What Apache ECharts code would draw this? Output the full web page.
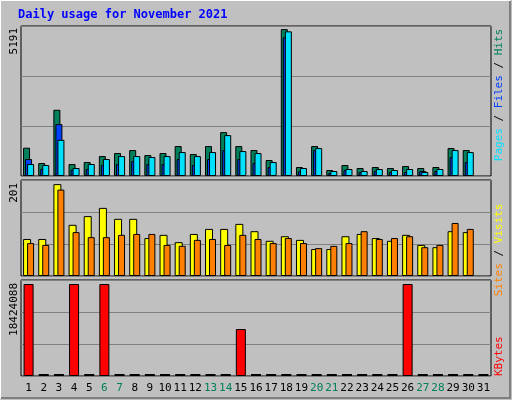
<!DOCTYPE html>
<html>
<head>
<meta charset="utf-8">
<script src="https://cdn.jsdelivr.net/npm/echarts@6/dist/echarts.min.js"></script>
<style>html,body{margin:0;padding:0;background:#c0c0c0}#chart{width:512px;height:400px}</style>
</head>
<body>
<div id="chart"></div>
<script>
const days = Array.from({ length: 31 }, (_, i) => String(i + 1));
const weekends = ['6', '7', '13', '14', '20', '21', '27', '28'];

// day 31 has no data yet
const hits = [1000, 458, 2340, 423, 494, 705, 811, 917, 740, 811, 1058, 776, 1058, 1551, 1058, 917, 564, 5191, 317, 1058, 211, 388, 282, 317, 282, 352, 282, 317, 987, 917, null];
const files = [600, 250, 1833, 223, 250, 388, 423, 529, 423, 423, 600, 388, 600, 917, 600, 458, 317, 4900, 165, 917, 106, 211, 141, 176, 141, 141, 176, 176, 670, 494, null];
const pages = [423, 388, 1280, 282, 423, 600, 705, 705, 670, 705, 846, 705, 846, 1445, 881, 811, 494, 5111, 282, 987, 176, 247, 176, 247, 211, 247, 141, 247, 917, 846, null];

const visits = [81, 81, 201, 112, 131, 149, 125, 125, 83, 90, 74, 92, 103, 103, 114, 98, 77, 87, 79, 59, 59, 87, 92, 83, 77, 90, 68, 63, 98, 96, null];
const sites = [72, 68, 189, 96, 85, 85, 90, 92, 92, 68, 66, 79, 81, 68, 90, 81, 72, 83, 72, 61, 66, 72, 98, 81, 83, 87, 63, 68, 116, 103, null];

const kbytes = [18424088, 0, 0, 18424088, 0, 18424088, 0, 0, 0, 0, 0, 0, 0, 0, 9400000, 0, 0, 0, 0, 0, 0, 0, 0, 0, 0, 18424088, 0, 0, 0, 0, 0];

const maxLabels = ['5191', '201', '18424088'];
const axisMax = [5300, 210, 19225000];

const chart = echarts.init(document.getElementById('chart'));
const font = '"DejaVu Sans Mono", monospace';
const grids = [
    { left: 21, right: 21, top: 26, height: 150 },
    { left: 21, right: 21, top: 180, height: 96 },
    { left: 21, right: 21, top: 280, height: 96 }
].map(g => ({ ...g, show: true, backgroundColor: '#c0c0c0', borderColor: '#000', borderWidth: 1 }));

const xAxes = grids.map((g, i) => ({
    type: 'category', gridIndex: i, data: days,
    axisLine: { show: false }, axisTick: { show: false },
    axisLabel: i === 2 ? {
        show: true, interval: 0, fontFamily: font, fontSize: 11, margin: 7,
        color: (v) => weekends.includes(v) ? '#00805a' : '#000'
    } : { show: false }
}));
const yAxes = grids.map((g, i) => ({
    type: 'value', gridIndex: i, min: 0, max: axisMax[i], interval: axisMax[i] / 3,
    axisLabel: { show: false }, axisLine: { show: false }, axisTick: { show: false },
    splitLine: { lineStyle: { color: '#808080', width: 1 } }
}));

const bar = (name, data, idx, color, width, gap, extra) => ({
    name, type: 'bar', data, xAxisIndex: idx, yAxisIndex: idx,
    barWidth: width, barGap: gap, animation: false,
    itemStyle: { color, borderColor: '#000', borderWidth: 1 }, ...extra
});

const kbData = kbytes.map(v => v === 0 ? { value: 0, itemStyle: { color: '#000', borderWidth: 0 } } : v);

const rotText = (x, y, text, align) => ({
    type: 'text', x, y, rotation: Math.PI / 2,
    style: { text, font: '11px ' + font, align, verticalAlign: 'middle' }
});

chart.setOption({
    backgroundColor: '#c0c0c0',
    animation: false,
    grid: grids,
    xAxis: xAxes,
    yAxis: yAxes,
    series: [
        bar('Hits', hits, 0, '#00805c', 7, '-71%'),
        bar('Files', files, 0, '#0040ff', 7, '-71%'),
        bar('Pages', pages, 0, '#00e0ff', 7, '-71%'),
        bar('Visits', visits, 1, '#ffff00', 8, '-50%'),
        bar('Sites', sites, 1, '#ff8000', 7, '-50%'),
        bar('KBytes', kbData, 2, '#ff0000', 10, '0%', { barMinHeight: 2 })
    ],
    graphic: [
        { type: 'rect', shape: { x: 0.5, y: 0.5, width: 510, height: 398 }, style: { fill: null, stroke: '#fff', lineWidth: 1 } },
        { type: 'polyline', shape: { points: [[1, 398], [510, 398], [510, 1]] }, style: { stroke: '#808080', lineWidth: 2 } },
        { type: 'text', x: 18, y: 9, style: { text: 'Daily usage for November 2021', font: 'bold 12px ' + font, fill: '#0000ff' } },
        rotText(14, 28, maxLabels[0], 'right'),
        rotText(14, 183, maxLabels[1], 'right'),
        rotText(14, 283, maxLabels[2], 'right'),
        {
            type: 'text', x: 499, y: 95, rotation: Math.PI / 2,
            style: {
                rich: { p: { fill: '#00e0ff' }, f: { fill: '#0040ff' }, h: { fill: '#00805c' }, s: { fill: '#000' } },
                text: '{p|Pages}{s| / }{f|Files}{s| / }{h|Hits}',
                font: '11px ' + font, align: 'center', verticalAlign: 'middle'
            }
        },
        {
            type: 'text', x: 499, y: 250, rotation: Math.PI / 2,
            style: {
                rich: { v: { fill: '#ffff00' }, t: { fill: '#ff8000' }, s: { fill: '#000' } },
                text: '{t|Sites}{s| / }{v|Visits}',
                font: '11px ' + font, align: 'center', verticalAlign: 'middle'
            }
        },
        {
            type: 'text', x: 499, y: 376, rotation: Math.PI / 2,
            style: { text: 'KBytes', fill: '#ff0000', font: '11px ' + font, align: 'left', verticalAlign: 'middle' }
        }
    ]
});
</script>
</body>
</html>
